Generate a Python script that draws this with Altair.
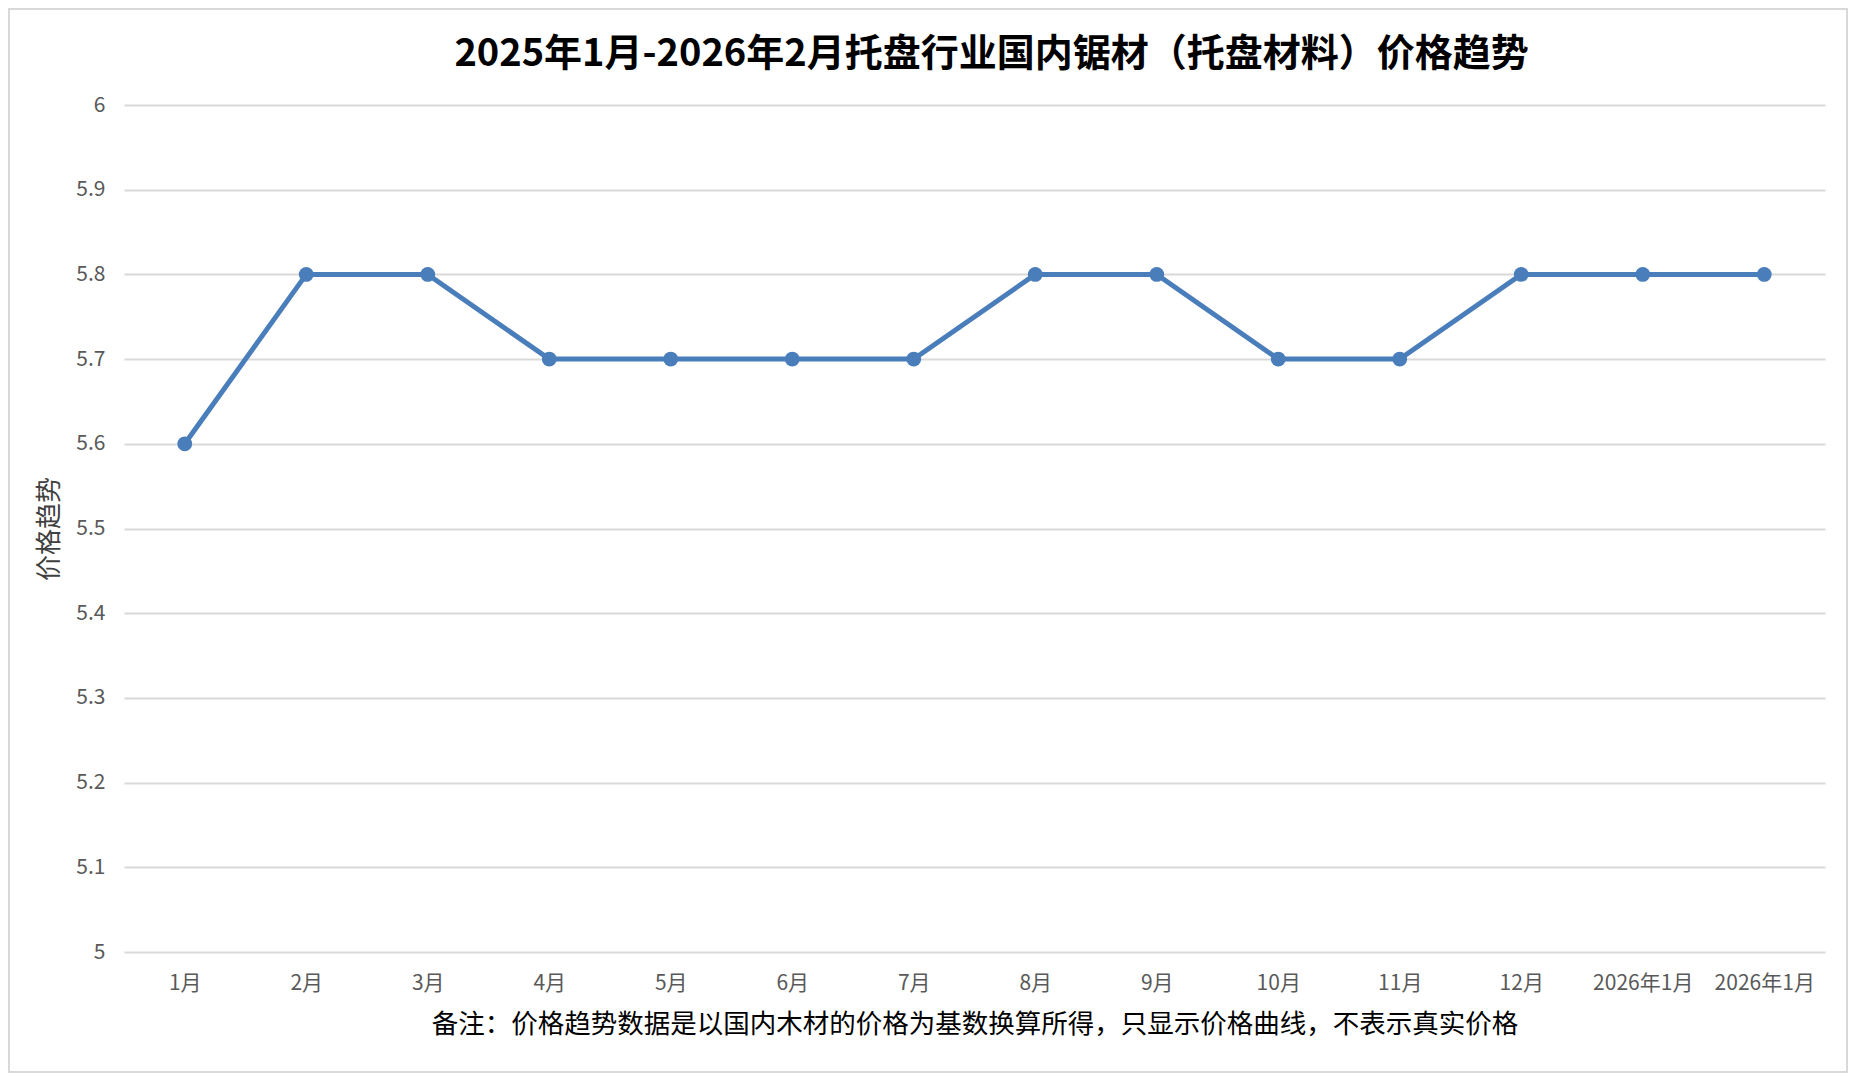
import altair as alt
import pandas as pd

months = ["1月", "2月", "3月", "4月", "5月", "6月", "7月", "8月", "9月", "10月",
          "11月", "12月", "2026年1月", "2026年1月"]
prices = [5.6, 5.8, 5.8, 5.7, 5.7, 5.7, 5.7, 5.8, 5.8, 5.7, 5.7, 5.8, 5.8, 5.8]
y_ticks = [5, 5.1, 5.2, 5.3, 5.4, 5.5, 5.6, 5.7, 5.8, 5.9, 6]

title_text = "2025年1月-2026年2月托盘行业国内锯材（托盘材料）价格趋势"
y_title = "价格趋势"
note_text = "备注：价格趋势数据是以国内木材的价格为基数换算所得，只显示价格曲线，不表示真实价格"

df = pd.DataFrame({"idx": list(range(len(months))), "month": months, "price": prices})
title_df = pd.DataFrame({"t": [title_text]})

FONT = "Noto Sans CJK SC"
W, H = 1701, 847
label_lookup = "[" + ",".join("'" + m + "'" for m in months) + "][datum.value]"

x_enc = alt.X(
    "idx:O",
    sort=None,
    axis=alt.Axis(
        title=note_text,
        labelExpr=label_lookup,
        labelAngle=0,
        labelFontSize=21,
        labelColor="#595959",
        labelFont=FONT,
        labelPadding=20,
        ticks=False,
        tickSize=0,
        domain=False,
        grid=False,
        titleFont=FONT,
        titleFontSize=26.5,
        titleFontWeight="normal",
        titleColor="#000000",
        titleY=72,
        titleBaseline="middle",
    ),
)
y_enc = alt.Y(
    "price:Q",
    scale=alt.Scale(domain=[5, 6], nice=False, zero=False),
    axis=alt.Axis(
        title=y_title,
        values=y_ticks,
        format="~f",
        labelFontSize=21,
        labelColor="#595959",
        labelFont=FONT,
        labelPadding=19,
        ticks=False,
        tickSize=0,
        domain=False,
        grid=True,
        gridColor="#d9d9d9",
        gridWidth=2,
        titleFont=FONT,
        titleFontSize=26,
        titleFontWeight="normal",
        titleColor="#404040",
        titleX=-75,
        titleBaseline="middle",
    ),
)

base = alt.Chart(df)
line = base.mark_line(color="#4a7ebb", strokeWidth=5).encode(x=x_enc, y=y_enc)
pts = base.mark_point(filled=True, color="#4a7ebb", size=220, opacity=1).encode(x=x_enc, y=y_enc)

title_mark = alt.Chart(title_df).mark_text(
    font=FONT, fontSize=38, fontWeight="bold", color="#000000",
    align="center", baseline="middle",
).encode(text="t:N", x=alt.value(W / 2 + 17), y=alt.value(-50))

border = alt.Chart(title_df).mark_rect(fillOpacity=0, stroke="#d9d9d9", strokeWidth=2).encode(
    x=alt.value(-115), x2=alt.value(W + 22), y=alt.value(-96), y2=alt.value(H + 120)
)

chart = (
    alt.layer(border, title_mark, line, pts)
    .properties(
        width=W,
        height=H,
        autosize=alt.AutoSizeParams(type="none"),
        padding={"left": 116, "top": 97, "right": 23, "bottom": 122},
        background="#ffffff",
    )
    .configure_view(strokeWidth=0, stroke="transparent")
)

chart.save("out.html", embed_options={"renderer": "svg", "actions": False})
